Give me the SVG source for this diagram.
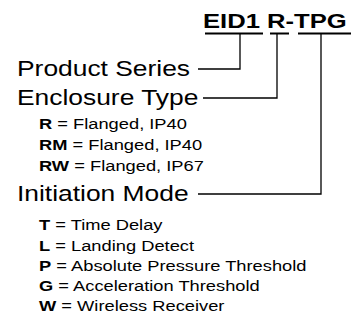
<svg xmlns="http://www.w3.org/2000/svg" width="353" height="320" viewBox="0 0 353 320">
<style>
text{font-family:"Liberation Sans",Arial,sans-serif;fill:#000}
.title{font-size:21px;font-weight:bold}
.big{font-size:22px}
.small{font-size:15px}
.b{font-weight:bold}
.ul{stroke:#000;stroke-width:2;fill:none}
.conn{stroke:#000;stroke-width:1.3;fill:none}
</style>
<rect width="353" height="320" fill="#fff"/>
<g id="title">
<text class="title" transform="translate(203,28) scale(1.22 1)">EID1 R-TPG</text>
<line class="ul" x1="205" y1="33.5" x2="263" y2="33.5"/>
<line class="ul" x1="270" y1="33.5" x2="289" y2="33.5"/>
<line class="ul" x1="298" y1="33.5" x2="351" y2="33.5"/>
</g>
<g id="product-series">
<text class="big" transform="translate(17,76) scale(1.2 1)">Product Series</text>
</g>
<g id="enclosure-type">
<text class="big" transform="translate(17,105) scale(1.2 1)">Enclosure Type</text>
<text class="small" transform="translate(39,129) scale(1.22 1)"><tspan class="b">R</tspan> = Flanged, IP40</text>
<text class="small" transform="translate(39,150) scale(1.22 1)"><tspan class="b">RM</tspan> = Flanged, IP40</text>
<text class="small" transform="translate(39,171) scale(1.22 1)"><tspan class="b">RW</tspan> = Flanged, IP67</text>
</g>
<g id="initiation-mode">
<text class="big" transform="translate(17,200.5) scale(1.2 1)">Initiation Mode</text>
<text class="small" transform="translate(39,230) scale(1.22 1)"><tspan class="b">T</tspan> = Time Delay</text>
<text class="small" transform="translate(39,250.5) scale(1.22 1)"><tspan class="b">L</tspan> = Landing Detect</text>
<text class="small" transform="translate(39,271) scale(1.22 1)"><tspan class="b">P</tspan> = Absolute Pressure Threshold</text>
<text class="small" transform="translate(39,291) scale(1.22 1)"><tspan class="b">G</tspan> = Acceleration Threshold</text>
<text class="small" transform="translate(39,311) scale(1.22 1)"><tspan class="b">W</tspan> = Wireless Receiver</text>
</g>
<g id="connectors">
<polyline class="conn" points="198,69 240,69 240,33.5"/>
<polyline class="conn" points="203,98 277,98 277,33.5"/>
<polyline class="conn" points="198,194 321,194 321,33.5"/>
</g>
</svg>
